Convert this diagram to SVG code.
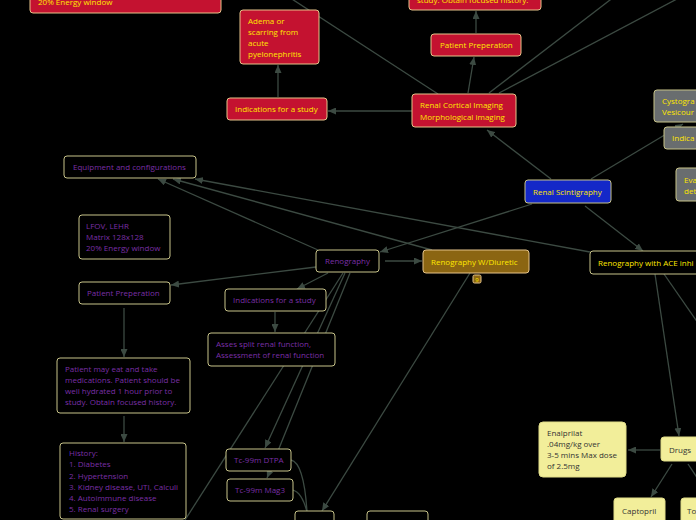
<svg xmlns="http://www.w3.org/2000/svg" width="696" height="520" viewBox="0 0 696 520">
<defs>
<marker id="ah" markerWidth="8" markerHeight="7" refX="8" refY="3.5" orient="auto" markerUnits="userSpaceOnUse">
<path d="M0,0 L8,3.5 L0,7 z" fill="#3c4a42"/>
</marker>
<style>
text{font-family:"Open Sans","Noto Sans",sans-serif;font-size:8px}
.ty{fill:#ffe800}
.tp{fill:#7a2fa6}
.td{fill:#333}
.red{fill:#c41230;stroke:#e6c48a;stroke-width:1}
.blk{fill:#000;stroke:#c8c48a;stroke-width:1}
.blu{fill:#1428c8;stroke:#c8c48a;stroke-width:1}
.brn{fill:#8b6512;stroke:#e6c48a;stroke-width:1}
.gry{fill:#696d6f;stroke:#c8c48a;stroke-width:1}
.lye{fill:#f2ee9a;stroke:#e0dc88;stroke-width:1}
.c{fill:none;stroke:#3c4a42;stroke-width:1.3}
.a{marker-end:url(#ah)}
</style>
</defs>
<rect width="696" height="520" fill="#000"/>
<g id="connectors">
<path class="c a" d="M412,111 L328,111"/>
<path class="c a" d="M278,97 L278,65"/>
<path class="c a" d="M468,93 L474,57"/>
<path class="c a" d="M476,33 L476,11"/>
<path class="c" d="M438,94 L278,-10"/>
<path class="c" d="M489,93 L623,-10"/>
<path class="c" d="M499,93 L694,-10"/>
<path class="c a" d="M551,179 L487,130"/>
<path class="c a" d="M591,179 L683,124"/>
<path class="c a" d="M532,204 L380,252"/>
<path class="c a" d="M585,206 L643,251"/>
<path class="c a" d="M385,261 L422,261"/>
<path class="c a" d="M318,250 L158,179"/>
<path class="c a" d="M432,250 L173,179"/>
<path class="c a" d="M590,252 L195,179"/>
<path class="c a" d="M316,267 L171,285"/>
<path class="c a" d="M328,273 L297,289"/>
<path class="c a" d="M275,312 L275,332"/>
<path class="c a" d="M124,308 L124,357"/>
<path class="c a" d="M124,416 L124,442"/>
<path class="c" d="M343,273 L185,520"/>
<path class="c a" d="M345,273 L265,448"/>
<path class="c a" d="M350,273 L267,478"/>
<path class="c a" d="M470,273 L322,511"/>
<path class="c" d="M291,460 C300,462 305,480 307,512"/>
<path class="c" d="M293,490 C300,492 304,500 307,512"/>
<path class="c a" d="M655,274 L679,436"/>
<path class="c" d="M664,274 L700,326"/>
<path class="c a" d="M660,450 L628,450"/>
<path class="c a" d="M672,464 L651,497"/>
<path class="c" d="M688,464 L700,482"/>
</g>
<g id="n-topleft"><rect class="red" x="30" y="-30" width="191" height="43" rx="3"/><text class="ty" x="38" y="5">20% Energy window</text></g>
<g id="n-adema"><rect class="red" x="240" y="10" width="79" height="54" rx="3"/><text class="ty" x="248" y="24">Adema or</text><text class="ty" x="248" y="35">scarring from</text><text class="ty" x="248" y="46">acute</text><text class="ty" x="248" y="57">pyelonephritis</text></g>
<g id="n-ind-red"><rect class="red" x="227" y="98" width="100" height="22" rx="3"/><text class="ty" x="235" y="112">Indications for a study</text></g>
<g id="n-topmid"><rect class="red" x="409" y="-30" width="132" height="40" rx="3"/><text class="ty" x="417" y="3">study. Obtain focused history.</text></g>
<g id="n-pp-red"><rect class="red" x="431" y="34" width="90" height="22" rx="3"/><text class="ty" x="440" y="48">Patient Preperation</text></g>
<g id="n-cortical"><rect class="red" x="412" y="94" width="104" height="33" rx="3"/><text class="ty" x="420" y="108">Renal Cortical Imaging</text><text class="ty" x="420" y="120">Morphological imaging</text></g>
<g id="n-cysto"><rect class="gry" x="654" y="90" width="60" height="32" rx="3"/><text class="ty" x="662" y="104">Cystogra</text><text class="ty" x="662" y="115">Vesicour</text></g>
<g id="n-ind-gray"><rect class="gry" x="664" y="127" width="50" height="22" rx="3"/><text class="ty" x="672" y="141">Indica</text></g>
<g id="n-eval"><rect class="gry" x="676" y="168" width="40" height="33" rx="3"/><text class="ty" x="684" y="183">Eva</text><text class="ty" x="684" y="194">det</text></g>
<g id="n-scint"><rect class="blu" x="525" y="180" width="86" height="23" rx="3"/><text class="ty" x="533" y="195">Renal Scintigraphy</text></g>
<g id="n-equip"><rect class="blk" x="64" y="156" width="132" height="22" rx="3"/><text class="tp" x="73" y="170">Equipment and configurations</text></g>
<g id="n-lfov"><rect class="blk" x="79" y="215" width="91" height="44" rx="3"/><text class="tp" x="86" y="229">LFOV, LEHR</text><text class="tp" x="86" y="240">Matrix 128x128</text><text class="tp" x="86" y="251">20% Energy window</text></g>
<g id="n-renog"><rect class="blk" x="316" y="250" width="63" height="22" rx="3"/><text class="tp" x="325" y="264">Renography</text></g>
<g id="n-diuretic"><rect class="brn" x="423" y="250" width="106" height="23" rx="3"/><text class="ty" x="431" y="265">Renography W/Diuretic</text><rect class="brn" x="473" y="275" width="8" height="8" rx="1.5"/><text class="ty" x="477" y="281.5" text-anchor="middle" style="font-size:6px">9</text></g>
<g id="n-ace"><rect class="blk" x="590" y="251" width="130" height="23" rx="3"/><text class="ty" x="598" y="266">Renography with ACE inhi</text></g>
<g id="n-pp"><rect class="blk" x="79" y="282" width="91" height="22" rx="3"/><text class="tp" x="87" y="296">Patient Preperation</text></g>
<g id="n-ind"><rect class="blk" x="225" y="289" width="101" height="22" rx="3"/><text class="tp" x="233" y="303">Indications for a study</text></g>
<g id="n-asses"><rect class="blk" x="208" y="333" width="127" height="33" rx="3"/><text class="tp" x="216" y="347">Asses split renal function,</text><text class="tp" x="216" y="358">Assessment of renal function</text></g>
<g id="n-eat"><rect class="blk" x="57" y="358" width="133" height="55" rx="3"/><text class="tp" x="65" y="372">Patient may eat and take</text><text class="tp" x="65" y="383">medications. Patient should be</text><text class="tp" x="65" y="394">well hydrated 1 hour prior to</text><text class="tp" x="65" y="405">study. Obtain focused history.</text></g>
<g id="n-history"><rect class="blk" x="60" y="443" width="126" height="76" rx="3"/><text class="tp" x="69" y="456">History:</text><text class="tp" x="69" y="467">1. Diabetes</text><text class="tp" x="69" y="479">2. Hypertension</text><text class="tp" x="69" y="490">3. Kidney disease, UTI, Calculi</text><text class="tp" x="69" y="501">4. Autoimmune disease</text><text class="tp" x="69" y="512">5. Renal surgery</text></g>
<g id="n-dtpa"><rect class="blk" x="226" y="449" width="65" height="22" rx="3"/><text class="tp" x="234" y="463">Tc-99m DTPA</text></g>
<g id="n-mag3"><rect class="blk" x="227" y="479" width="66" height="22" rx="3"/><text class="tp" x="235" y="493">Tc-99m Mag3</text></g>
<g id="n-bot1"><rect class="blk" x="295" y="511" width="39" height="22" rx="3"/></g>
<g id="n-bot2"><rect class="blk" x="367" y="511" width="61" height="22" rx="3"/></g>
<g id="n-enal"><rect class="lye" x="539" y="422" width="87" height="55" rx="4"/><text class="td" x="547" y="436">Enalprilat</text><text class="td" x="547" y="447">.04mg/kg over</text><text class="td" x="547" y="458">3-5 mins Max dose</text><text class="td" x="547" y="469">of 2.5mg</text></g>
<g id="n-drugs"><rect class="lye" x="661" y="437" width="50" height="24" rx="3"/><text class="td" x="669" y="453">Drugs</text></g>
<g id="n-capto"><rect class="lye" x="614" y="498" width="51" height="30" rx="3"/><text class="td" x="622" y="514">Captopril</text></g>
<g id="n-to"><rect class="lye" x="681" y="498" width="30" height="30" rx="3"/><text class="td" x="687" y="514">To</text></g>
</svg>
